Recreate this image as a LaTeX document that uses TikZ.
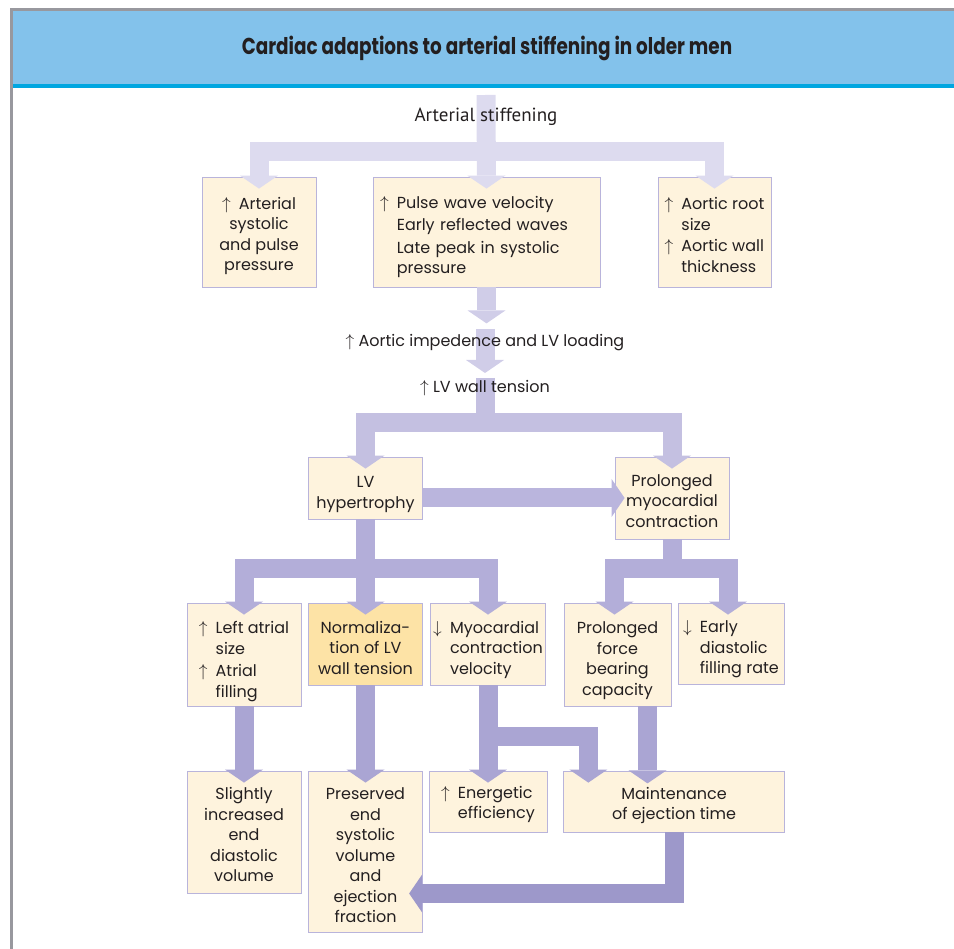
\documentclass[tikz,border=0pt]{standalone}
\usepackage{fontspec}
\setmainfont{Poppins}
\newfontfamily\titlefont{Poppins}[FakeStretch=0.8]
\newfontfamily\labfont{PT Sans}
\usepackage{tikz}
\usetikzlibrary{arrows.meta,calc}
\definecolor{ink}{RGB}{35,31,32}
\definecolor{framegray}{RGB}{152,152,158}
\definecolor{headblue}{RGB}{131,194,235}
\definecolor{stripeblue}{RGB}{0,166,224}
\definecolor{boxfill}{RGB}{254,243,221}
\definecolor{keyfill}{RGB}{253,227,166}
\definecolor{boxline}{RGB}{185,180,219}
\definecolor{lvA}{RGB}{221,219,239}
\definecolor{lvB}{RGB}{208,205,232}
\definecolor{lvC}{RGB}{196,192,225}
\definecolor{lvD}{RGB}{186,181,221}
\definecolor{lvE}{RGB}{179,174,217}
\definecolor{lvF}{RGB}{170,165,211}
\definecolor{lvG}{RGB}{157,152,202}
\newcommand{\up}{\makebox[1.05em][l]{$\uparrow$}}
\newcommand{\down}{\makebox[1.05em][l]{$\downarrow$}}
\newcommand{\ind}{\hspace*{1.05em}}
\newcommand{\bodyfont}{\fontsize{16}{20.5}\selectfont}
\pgfdeclarelayer{bands}
\pgfdeclarelayer{labels}
\pgfsetlayers{main,bands,labels}
\tikzset{
  box/.style={draw=boxline, line width=0.8pt, fill=boxfill, text=ink,
              align=center, inner sep=0pt, font=\bodyfont},
  keybox/.style={box, fill=keyfill},
  lab/.style={text=ink, inner sep=0pt, font=\bodyfont},
  band/.style={line width=19pt, line cap=butt, line join=miter,
               -{Triangle[width=38pt,length=13pt,line width=0pt]}},
}

\begin{document}
\begin{tikzpicture}[x=1pt,y=1pt]
  \useasboundingbox (0,0) rectangle (954,-949);

  % frame and heading
  \fill[framegray] (10,-8) rectangle (954,-11);
  \fill[framegray] (10,-8) rectangle (12.7,-949);
  \fill[headblue] (12.7,-11) rectangle (954,-84);
  \fill[stripeblue] (12.7,-84) rectangle (954,-88);

  % first row (text height pushes the text below the arrow heads)
  \node[box, minimum width=114, minimum height=110, text height=81.5pt] (A) at (259,-232)
    {\up Arterial\\systolic\\and pulse\\pressure};
  \node[box, text width=213, inner xsep=7, minimum height=110, align=left, text height=22pt] (B) at (486.5,-232)
    {\up Pulse wave velocity\\[2pt]
     \ind Early reflected waves\\[2pt]
     \ind Late peak in systolic\\
     \ind pressure};
  \node[box, align=left, minimum width=113, minimum height=110, text height=80.5pt] (C) at (714.5,-232)
    {\up Aortic root\\
     \ind size\\[1pt]
     \up Aortic wall\\
     \ind thickness};

  % second row
  \node[box, minimum width=114, minimum height=62, text height=44.5pt] (LV) at (365.5,-488)
    {LV\\hypertrophy};
  \node[box, minimum width=114, minimum height=82, text height=59pt] (PM) at (672,-498)
    {Prolonged\\myocardial\\contraction};

  % third row
  \node[box, align=left, minimum width=114, minimum height=103, text height=89.5pt] (LA) at (244,-654.5)
    {\up Left atrial\\
     \ind size\\[2pt]
     \up Atrial\\
     \ind filling};
  \node[keybox, minimum width=114.5, minimum height=82, text height=61pt] (NO) at (365.5,-644)
    {Normaliza-\\tion of LV\\wall tension};
  \node[box, align=left, minimum width=115, minimum height=82, text height=65pt] (MY) at (488,-644)
    {\down Myocardial\\
     \ind contraction\\
     \ind velocity};
  \node[box, minimum width=107, minimum height=103, text height=85.5pt] (PF) at (617.5,-654.5)
    {Prolonged\\force\\bearing\\capacity};
  \node[box, align=left, minimum width=106, minimum height=81, text height=65pt] (ED) at (731,-643.5)
    {\down Early\\
     \ind diastolic\\
     \ind filling rate};

  % fourth row
  \node[box, minimum width=114, minimum height=122, text height=100pt] (SL) at (244,-832)
    {Slightly\\increased\\end\\diastolic\\volume};
  \node[box, minimum width=114.5, minimum height=161, text height=143pt] (PR) at (365.5,-851.5)
    {Preserved\\end\\systolic\\volume\\and\\ejection\\fraction};
  \node[box, align=left, minimum width=118, minimum height=61, text height=38.5pt] (EN) at (488,-801.5)
    {\up Energetic\\
     \ind efficiency};
  \node[box, minimum width=221.5, minimum height=61, text height=40.5pt] (MA) at (674,-801.5)
    {Maintenance\\of ejection time};

  \begin{pgfonlayer}{labels}
    \node[text=ink, font=\titlefont\bfseries\fontsize{23}{26}\selectfont] (title) at (487,-48)
      {Cardiac adaptions to arterial stiffening in older men};
    \node[lab, font=\labfont\fontsize{19}{22}\selectfont] (stiff) at (486,-117) {Arterial stiffening};
    \node[lab] (imp) at (485,-343) {$\uparrow$ Aortic impedence and LV loading};
    \node[lab] (tension) at (485,-388) {$\uparrow$ LV wall tension};
  \end{pgfonlayer}

  \begin{pgfonlayer}{bands}
    \coordinate (fork1) at (486,-151.5);
    \draw[band, lvA] (486,-95) -- ([yshift=-12pt]B.north);
    \draw[band, lvA] (fork1) -| ([yshift=-12pt]A.north);
    \draw[band, lvA] (fork1) -| ([yshift=-12pt]C.north);

    \draw[band, lvB] (B.south) -- ++(0,-36);
    \draw[band, lvB] ([yshift=14pt]imp.center) -- ([yshift=-30pt]imp.center);

    \draw[band, lvC] ([yshift=10pt]tension.center) -- (tension |- 0,-422.5)
      -| ([yshift=-12pt]LV.north);
    \draw[band, lvC] (tension |- 0,-422.5) -| ([yshift=-12pt]PM.north);

    \draw[band, lvD] (LV.east |- PM) -- ([xshift=10pt]PM.west);

    \draw[band, lvE] (LV.south) -- ([yshift=-12pt]NO.north);
    \draw[band, lvE] (LV |- 0,-569) -| ([yshift=-12pt]LA.north);
    \draw[band, lvE] (LV |- 0,-569) -| ([yshift=-12pt]MY.north);
    \draw[band, lvE] (PM.south) -- (PM |- 0,-569) -| ([xshift=-3pt,yshift=-12pt]PF.north);
    \draw[band, lvE] (PM |- 0,-569) -| ([xshift=-3pt,yshift=-12pt]ED.north);

    \draw[band, lvF] (LA.south) -- ([yshift=-12pt]SL.north);
    \draw[band, lvF] (NO.south) -- ([yshift=-12pt]PR.north);
    \draw[band, lvF] (MY.south) -- ([yshift=-12pt]EN.north);
    \draw[band, lvF] (MY |- 0,-736) -| ($(MA.north west)+(25.5,-12)$);
    \draw[band, lvF] ([xshift=30pt]PF.south) -- ++(0,-77);

    \draw[band, lvG] (MA.south) |- ([xshift=-14pt,yshift=-42pt]PR.east);
  \end{pgfonlayer}
\end{tikzpicture}
\end{document}
